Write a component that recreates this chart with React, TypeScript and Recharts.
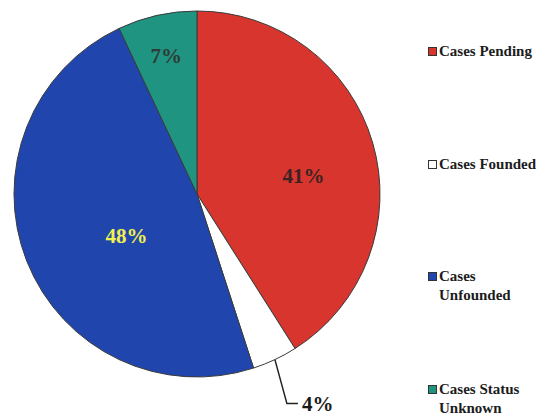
import { PieChart, Pie, Cell, Legend } from 'recharts';

const CATEGORIES = ['Cases Pending', 'Cases Founded', 'Cases Unfounded', 'Cases Status Unknown'];
const PERCENTS = [41, 4, 48, 7];
const LEGEND_LINES = [['Cases Pending'], ['Cases Founded'], ['Cases', 'Unfounded'], ['Cases Status', 'Unknown']];

const COLORS = ['#d8352f', '#ffffff', '#2046ae', '#1f9480'];
const LABEL_COLORS = ['#3b2323', '#1a1a1a', '#f2f04e', '#2e3b36'];
// radius fraction + angle nudge for each inside label
const LABEL_PLACE = [
  { r: 0.59, da: -6.6 },
  { r: 0, da: 0 },
  { r: 0.45, da: 9.4 },
  { r: 0.77, da: 0 },
];

const RADIAN = Math.PI / 180;
const SERIF = '"Liberation Serif", "Times New Roman", serif';

const data = CATEGORIES.map((name, i) => ({ name, value: PERCENTS[i] }));

function renderLabel(props: any) {
  const { cx, cy, midAngle, outerRadius, index, value } = props;
  if (index === 1) {
    // small slice: leader line out to the bottom
    const x0 = cx + outerRadius * Math.cos(-midAngle * RADIAN);
    const y0 = cy + outerRadius * Math.sin(-midAngle * RADIAN);
    const x1 = x0 + 12;
    const y1 = y0 + 44;
    const x2 = x1 + 11;
    return (
      <g>
        <polyline points={`${x0},${y0} ${x1},${y1} ${x2},${y1}`} fill="none" stroke="#222" strokeWidth={1.5} />
        <text x={x2 + 4} y={y1} fill={LABEL_COLORS[index]} fontFamily={SERIF} fontWeight="bold" fontSize={21}
          textAnchor="start" dominantBaseline="central">
          {value}%
        </text>
      </g>
    );
  }
  const p = LABEL_PLACE[index];
  const a = (midAngle + p.da) * RADIAN;
  const x = cx + outerRadius * p.r * Math.cos(-a);
  const y = cy + outerRadius * p.r * Math.sin(-a);
  return (
    <text x={x} y={y} fill={LABEL_COLORS[index]} fontFamily={SERIF} fontWeight="bold" fontSize={21}
      textAnchor="middle" dominantBaseline="central">
      {value}%
    </text>
  );
}

function LegendBox() {
  return (
    <div style={{ fontFamily: SERIF, fontWeight: 'bold', fontSize: 15, color: '#1c1c1c' }}>
      {LEGEND_LINES.map((lines, i) => (
        <div key={CATEGORIES[i]} style={{ position: 'absolute', top: 42 + i * 112.5, left: 0, lineHeight: '19px' }}>
          <span style={{
            position: 'absolute', left: 0, top: 5, width: 7, height: 7,
            background: COLORS[i], border: '1px solid #333',
          }} />
          {lines.map(l => (
            <div key={l} style={{ marginLeft: 11, whiteSpace: 'nowrap' }}>{l}</div>
          ))}
        </div>
      ))}
    </div>
  );
}

export default function App() {
  return (
    <div style={{ position: 'absolute', left: 0, top: 0, width: 546, height: 415, background: '#fff' }}>
      <PieChart width={546} height={415} margin={{ top: 0, right: 0, bottom: 0, left: 0 }}>
        <Pie
          data={data}
          dataKey="value"
          nameKey="name"
          cx={197}
          cy={194}
          outerRadius={183}
          startAngle={90}
          endAngle={-270}
          stroke="#3a3a3a"
          strokeWidth={1}
          label={renderLabel}
          labelLine={false}
          isAnimationActive={false}
        >
          {data.map((d, i) => (
            <Cell key={d.name} fill={COLORS[i]} />
          ))}
        </Pie>
        <Legend
          layout="vertical"
          content={() => <LegendBox />}
          wrapperStyle={{ position: 'absolute', left: 428, top: 0, width: 118, height: 415 }}
        />
      </PieChart>
    </div>
  );
}
